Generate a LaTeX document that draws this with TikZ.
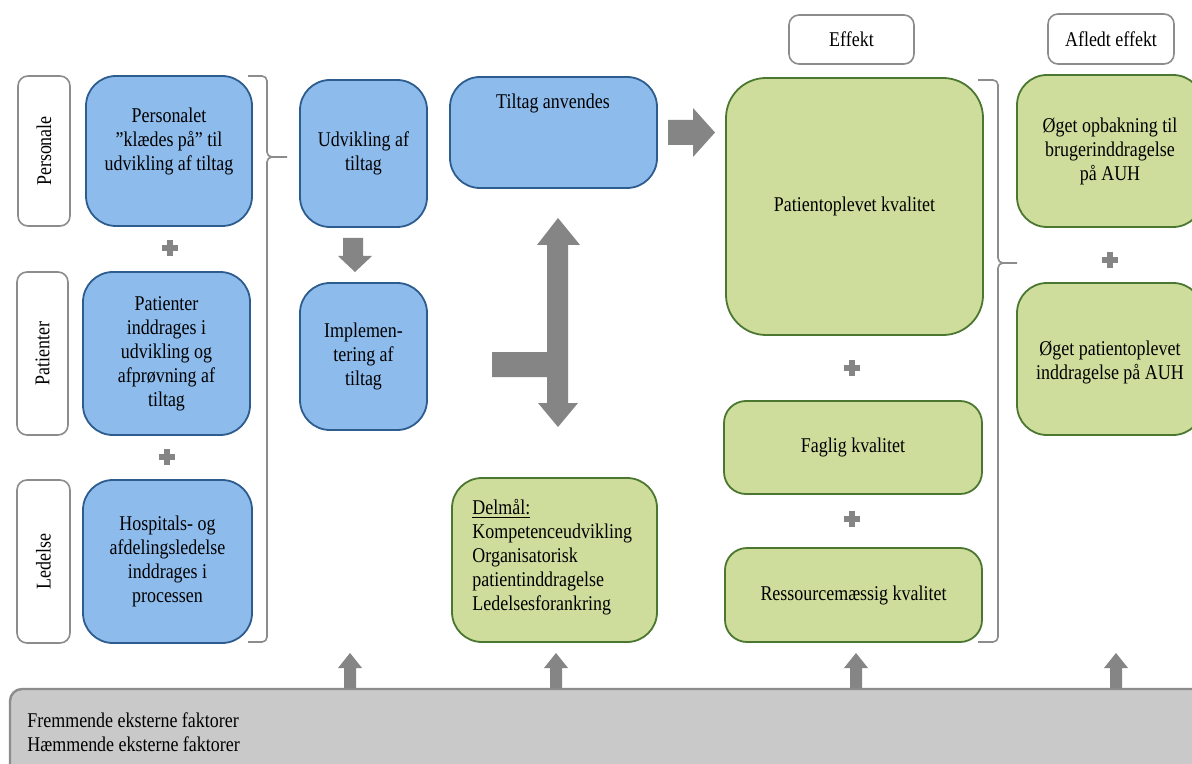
\documentclass[tikz,border=0pt]{standalone}
\usepackage{fontspec}
\setmainfont{Liberation Serif}[FakeStretch=0.855]
\usetikzlibrary{fit}
\definecolor{bluefill}{HTML}{8DBBEC}
\definecolor{blueline}{HTML}{2D5C8E}
\definecolor{greenfill}{HTML}{CEDD9C}
\definecolor{greenline}{HTML}{4B7730}
\definecolor{arrowgray}{HTML}{858585}
\definecolor{labelline}{HTML}{8C8C8C}
\definecolor{barfill}{HTML}{C9C9C9}
\begin{document}
\begin{tikzpicture}[x=0.5pt,y=-0.5pt,
  every node/.style={font=\fontsize{10.5}{12}\selectfont},
  boxbase/.style={inner sep=0pt, line width=0.9pt},
  bluebox/.style={boxbase, draw=blueline, fill=bluefill, rounded corners=15pt},
  greenbox/.style={boxbase, draw=greenline, fill=greenfill, rounded corners=11pt},
  biggreen/.style={boxbase, draw=greenline, fill=greenfill, rounded corners=20pt},
  labelbox/.style={boxbase, draw=labelline, fill=white, rounded corners=5pt, line width=0.8pt},
  txt/.style={align=center, inner sep=0pt},
  blockarrow/.style={fill=arrowgray, draw=none},
  plus/.style={draw=arrowgray, line width=2.6pt},
  bracket/.style={draw=labelline, line width=0.8pt},
]
\clip (0,0) rectangle (1192,764);
\fill[white] (0,0) rectangle (1192,764);

% ---- left labels ----
\node[labelbox, fit={(18,76)(70,226)}] (lpers) {};
\node[txt, rotate=90] at (lpers.center) {Personale};
\node[labelbox, fit={(17,272)(68,435)}] (lpat) {};
\node[txt, rotate=90] at (lpat.center) {Patienter};
\node[labelbox, fit={(17,480)(70,643)}] (lled) {};
\node[txt, rotate=90] at (lled.center) {Ledelse};

% ---- left blue column ----
\node[bluebox, fit={(86,76)(252,226)}] (bpers) {};
\node[txt] (tpers) at (169,141) {Personalet\\"klædes på" til\\udvikling af tiltag};
\node[bluebox, fit={(83,272)(250,435)}] (bpat) {};
\node[txt] (tpat) at (bpat.center) {Patienter\\inddrages i\\udvikling og\\afprøvning af\\tiltag};
\node[bluebox, fit={(83,480)(252,643)}] (bled) {};
\node[txt] (tled) at (bled.center) {Hospitals- og\\afdelingsledelse\\inddrages i\\processen};

\draw[plus] (162,248) -- (178,248) (170,240) -- (170,256);
\draw[plus] (159,457) -- (175,457) (167,449) -- (167,465);

% left bracket
\draw[bracket] (248,76) -- (262,76) to[out=0,in=90] (267,81) -- (267,152)
  to[out=-90,in=180] (272,157) -- (287,157);
\draw[bracket] (272,157) to[out=180,in=90] (267,162) -- (267,637)
  to[out=-90,in=0] (262,642) -- (248,642);

% ---- middle column ----
\node[bluebox, fit={(300,80)(427,227)}] (budv) {};
\node[txt] (tudv) at (budv.center) {Udvikling af\\tiltag};
\node[bluebox, fit={(300,283)(427,430)}] (bimp) {};
\node[txt] (timp) at (bimp.center) {Implemen-\\tering af\\tiltag};
\fill[blockarrow] (343,238) -- (363,238) -- (363,256) -- (372,256) -- (355,272)
  -- (338,256) -- (343,256) -- cycle;

\node[bluebox, fit={(450,77)(657,188)}] (banv) {};
\node[txt] (tanv) at (553,103) {Tiltag anvendes};

% right arrow to effect
\fill[blockarrow] (668,120) -- (693,120) -- (693,108) -- (715,132.5) -- (693,157)
  -- (693,145) -- (668,145) -- cycle;

% T-shaped double arrow
\fill[blockarrow] (558,218) -- (580,245) -- (568,245) -- (568,403) -- (578,403)
  -- (558,427) -- (538,403) -- (547,403) -- (547,377) -- (492,377) -- (492,352)
  -- (547,352) -- (547,245) -- (537,245) -- cycle;

% Delmaal box
\node[greenbox, rounded corners=15pt, fit={(452,478)(657,642)}] (bdel) {};
\node[align=left, inner sep=0pt, anchor=north west] (tdel) at (472,499)
  {\underline{Delmål:}\\Kompetenceudvikling\\Organisatorisk\\patientinddragelse\\Ledelsesforankring};

% ---- effect column ----
\node[labelbox, fit={(789,15)(914,64)}] (heff) {};
\node[txt] at (heff.center) {Effekt};
\node[labelbox, fit={(1048,14)(1174,64)}] (hafl) {};
\node[txt] at (hafl.center) {Afledt effekt};

\node[biggreen, fit={(726,78)(983,335)}] (gpat) {};
\node[txt] (tgpat) at (gpat.center) {Patientoplevet kvalitet};
\node[greenbox, fit={(724,401)(982,494)}] (gfag) {};
\node[txt] (tgfag) at (gfag.center) {Faglig kvalitet};
\node[greenbox, fit={(725,548)(982,642)}] (gres) {};
\node[txt] (tgres) at (gres.center) {Ressourcemæssig kvalitet};

\draw[plus] (844,368) -- (860,368) (852,360) -- (852,376);
\draw[plus] (844,519) -- (860,519) (852,511) -- (852,527);

% right bracket
\draw[bracket] (978,80) -- (993,80) to[out=0,in=90] (998,85) -- (998,258)
  to[out=-90,in=180] (1003,263) -- (1017,263);
\draw[bracket] (1003,263) to[out=180,in=90] (998,268) -- (998,637)
  to[out=-90,in=0] (993,642) -- (978,642);

% ---- derived effect column ----
\node[greenbox, rounded corners=15pt, fit={(1017,75)(1203,227)}] (gopb) {};
\node[txt] (tgopb) at (1110,151) {Øget opbakning til\\brugerinddragelse\\på AUH};
\node[greenbox, rounded corners=15pt, fit={(1017,283)(1203,435)}] (gopl) {};
\node[txt] (tgopl) at (1110,362) {Øget patientoplevet\\inddragelse på AUH};
\draw[plus] (1102,260) -- (1118,260) (1110,252) -- (1110,268);

% ---- bottom bar ----
\node[fill=barfill, inner sep=0pt, rounded corners=6pt, fit={(10,689)(1210,790)}] (bar) {};
\draw[draw=labelline, line width=1.2pt, rounded corners=6pt] (10,770) -- (10,689) -- (1200,689);
\node[align=left, inner sep=0pt, anchor=west] (tbar) at (27,732)
  {Fremmende eksterne faktorer\\Hæmmende eksterne faktorer};

% up arrows
\foreach \cx/\nm in {350/a,556/b,856/c,1116/d}{
  \fill[blockarrow] (\cx-6,688) -- (\cx-6,668) -- (\cx-12,668) -- (\cx,653)
    -- (\cx+12,668) -- (\cx+6,668) -- (\cx+6,688) -- cycle;
}
\end{tikzpicture}
\end{document}
